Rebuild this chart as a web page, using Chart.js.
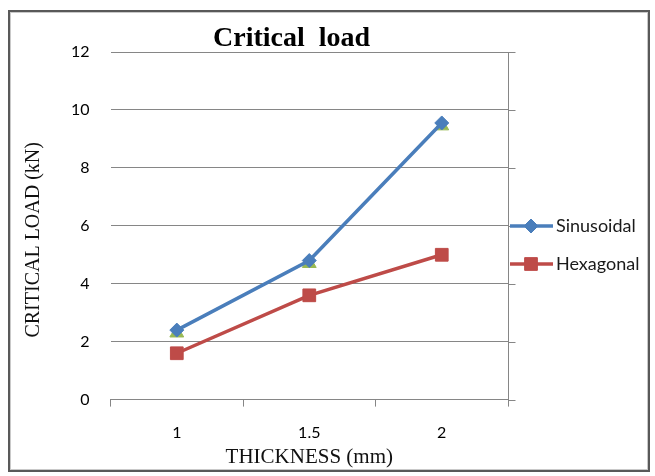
<!DOCTYPE html>
<html>
<head>
<meta charset="utf-8">
<script src="https://cdn.jsdelivr.net/npm/chart.js@4"></script>
<style>
  html, body { margin: 0; padding: 0; background: #fff; }
  #wrap { position: relative; width: 655px; height: 476px; }
  #wrap canvas { position: absolute; left: 0; top: 0; }
  #frame {
    position: absolute; left: 8px; top: 10px; width: 638px; height: 458px;
    border: 2px solid #595959; box-shadow: inset 0 0 0 1px #c9c9c9;
    pointer-events: none;
  }
</style>
</head>
<body>
<div id="wrap">
  <canvas id="chart" width="655" height="476"></canvas>
  <div id="frame"></div>
</div>
<script>
// Critical load against panel thickness
const thickness = ['1', '1.5', '2'];
const sinusoidal = [2.4, 4.8, 9.55];
const hexagonal = [1.6, 3.6, 5.0];
const series3 = [2.3, 4.7, 9.45];
const yTicks = [0, 2, 4, 6, 8, 10, 12];

const GRID = '#868686';
const TICK_FONT = { family: 'Lato', size: 16 };

// Chart heading and the vertical axis caption
const headingPlugin = {
  id: 'heading',
  afterDraw(chart) {
    const { ctx, chartArea } = chart;
    ctx.save();
    ctx.font = 'bold 28px "Liberation Serif"';
    ctx.fillStyle = '#000';
    ctx.textAlign = 'center';
    ctx.textBaseline = 'middle';
    ctx.fillText('Critical  load', chartArea.left + 181, 39);

    ctx.font = '20px "Liberation Serif"';
    ctx.fillStyle = '#111';
    ctx.translate(34, (chartArea.top + chartArea.bottom) / 2 + 14);
    ctx.rotate(-Math.PI / 2);
    ctx.fillText('CRITICAL LOAD (kN)', 0, 0);
    ctx.restore();
  }
};

// Right-hand frame line of the plot with outward tick marks
const rightAxisPlugin = {
  id: 'rightAxis',
  afterDraw(chart) {
    const { ctx, chartArea } = chart;
    const y = chart.scales.y;
    ctx.save();
    ctx.strokeStyle = GRID;
    ctx.lineWidth = 1;
    ctx.beginPath();
    const xr = Math.round(chartArea.right) + 0.5;
    ctx.moveTo(xr, chartArea.top);
    ctx.lineTo(xr, chartArea.bottom);
    yTicks.forEach(v => {
      const py = Math.round(y.getPixelForValue(v)) + 0.5;
      ctx.moveTo(xr, py);
      ctx.lineTo(xr + 7, py);
    });
    ctx.stroke();
    ctx.restore();
  }
};

// Legend entries: line sample with marker, then the series name
const lineLegendPlugin = {
  id: 'lineLegend',
  afterDraw(chart) {
    const { ctx, chartArea } = chart;
    const x0 = chartArea.right + 2;
    let row = 0;
    chart.data.datasets.forEach(ds => {
      if (ds.inLegend === false) return;
      const yy = chartArea.top + 174 + row * 38;
      ctx.save();
      ctx.strokeStyle = ds.borderColor;
      ctx.lineWidth = ds.borderWidth;
      ctx.beginPath();
      ctx.moveTo(x0, yy);
      ctx.lineTo(x0 + 43, yy);
      ctx.stroke();
      ctx.fillStyle = ds.backgroundColor;
      ctx.lineWidth = 1;
      Chart.helpers.drawPoint(ctx, {
        pointStyle: ds.pointStyle, radius: ds.pointRadius, borderWidth: 1, rotation: 0
      }, x0 + 21, yy);
      ctx.font = '18px Lato';
      ctx.fillStyle = '#1a1a1a';
      ctx.textAlign = 'left';
      ctx.textBaseline = 'middle';
      ctx.fillText(ds.label, x0 + 46, yy);
      ctx.restore();
      row++;
    });
  }
};

new Chart(document.getElementById('chart'), {
  type: 'line',
  data: {
    labels: thickness,
    datasets: [
      {
        label: 'Sinusoidal', data: sinusoidal,
        borderColor: '#4A7EBB', backgroundColor: '#4A7EBB', borderWidth: 3.5,
        pointStyle: 'rectRot', pointRadius: 7, pointBorderWidth: 1
      },
      {
        label: 'Hexagonal', data: hexagonal,
        borderColor: '#BE4B48', backgroundColor: '#BE4B48', borderWidth: 3.5,
        pointStyle: 'rect', pointRadius: 9, pointBorderWidth: 1
      },
      {
        label: 'Series3', data: series3, inLegend: false,
        borderColor: 'rgba(0,0,0,0)', backgroundColor: '#98B954', borderWidth: 0,
        pointBorderColor: '#98B954',
        pointStyle: 'triangle', pointRadius: 8, pointBorderWidth: 1
      }
    ]
  },
  options: {
    responsive: false,
    animation: false,
    devicePixelRatio: 1,
    layout: { padding: { left: 50, right: 147, top: 52, bottom: 6 } },
    plugins: {
      legend: { display: false },
      title: { display: false },
      tooltip: { enabled: false }
    },
    scales: {
      x: {
        type: 'category',
        offset: true,
        grid: { offset: true, drawOnChartArea: false, drawTicks: true, tickLength: 7, color: GRID },
        border: { display: true, color: GRID },
        ticks: { color: '#000', font: TICK_FONT, padding: 17 },
        title: {
          display: true, text: 'THICKNESS (mm)', color: '#111',
          font: { family: 'Liberation Serif', size: 21 },
          padding: { top: -15, bottom: 0 }
        }
      },
      y: {
        min: 0, max: 12,
        afterBuildTicks(scale) { scale.ticks = yTicks.map(v => ({ value: v })); },
        grid: { color: GRID, drawTicks: false },
        border: { display: false },
        ticks: { color: '#000', font: TICK_FONT, padding: 21 },
        title: { display: false }
      }
    }
  },
  plugins: [headingPlugin, rightAxisPlugin, lineLegendPlugin]
});
</script>
</body>
</html>
